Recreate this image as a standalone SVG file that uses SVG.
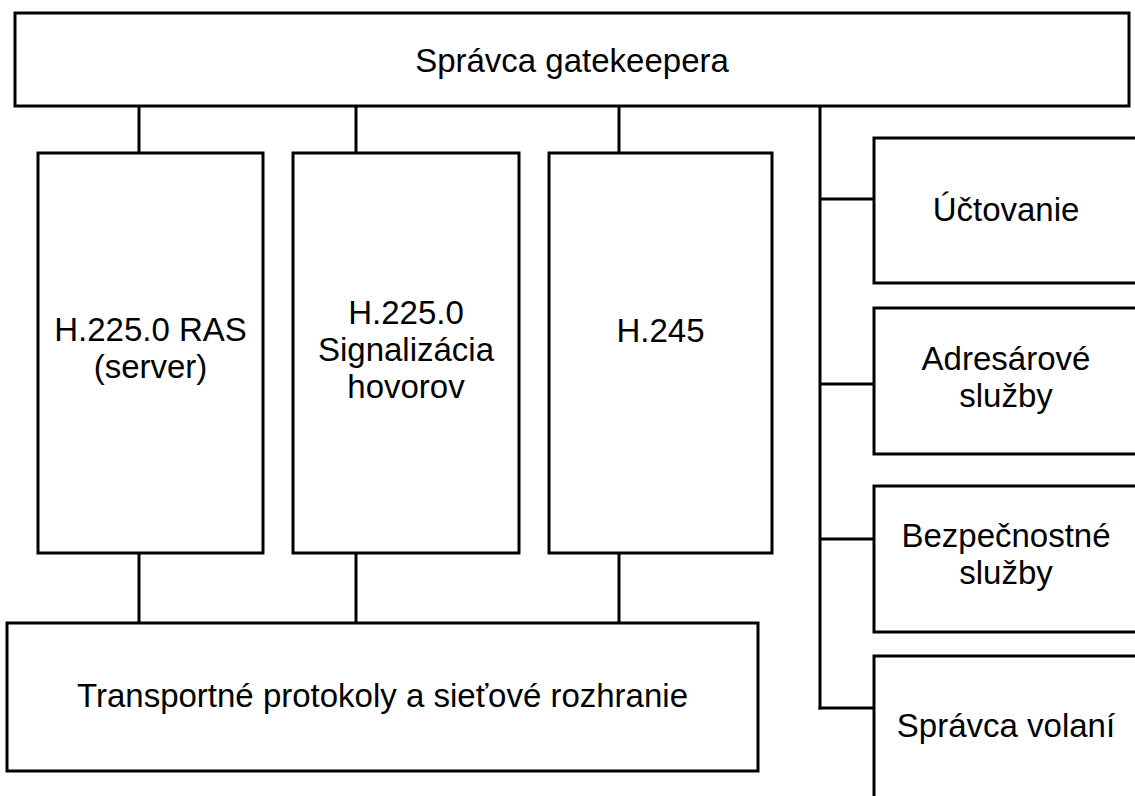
<svg xmlns="http://www.w3.org/2000/svg" width="1135" height="796" viewBox="0 0 1135 796">
<style>
rect{fill:#fff;stroke:#000;stroke-width:3}
line{stroke:#000;stroke-width:3}
text{font-family:"Liberation Sans",Arial,sans-serif;font-size:33px;fill:#000;text-anchor:middle}
</style>
<rect x="0" y="0" width="1135" height="796" style="stroke:none"/>
<g id="connectors">
<line x1="139" y1="106" x2="139" y2="153"/>
<line x1="356" y1="106" x2="356" y2="153"/>
<line x1="619" y1="106" x2="619" y2="153"/>
<line x1="139" y1="553" x2="139" y2="623"/>
<line x1="356" y1="553" x2="356" y2="623"/>
<line x1="619" y1="553" x2="619" y2="623"/>
<line x1="820" y1="106" x2="820" y2="709.5"/>
<line x1="820" y1="199" x2="874" y2="199"/>
<line x1="820" y1="384" x2="874" y2="384"/>
<line x1="820" y1="539" x2="874" y2="539"/>
<line x1="818.5" y1="708" x2="874" y2="708"/>
</g>
<g id="gatekeeper"><rect x="15" y="13" width="1114" height="93"/><text x="572" y="72">Správca gatekeepera</text></g>
<g id="ras"><rect x="38" y="153" width="225" height="400"/><text x="150.5" y="341">H.225.0 RAS</text><text x="150.5" y="378">(server)</text></g>
<g id="signal"><rect x="293" y="153" width="226" height="400"/><text x="406" y="324">H.225.0</text><text x="406" y="361">Signalizácia</text><text x="406" y="398">hovorov</text></g>
<g id="h245"><rect x="549" y="153" width="223" height="400"/><text x="660.5" y="342">H.245</text></g>
<g id="transport"><rect x="7" y="623" width="751" height="148"/><text x="382.5" y="707">Transportné protokoly a sieťové rozhranie</text></g>
<g id="uctovanie"><rect x="874" y="138" width="280" height="145"/><text x="1006" y="221">Účtovanie</text></g>
<g id="adresar"><rect x="874" y="308" width="280" height="146"/><text x="1006" y="370">Adresárové</text><text x="1006" y="407">služby</text></g>
<g id="bezpecnost"><rect x="874" y="486" width="280" height="146"/><text x="1006" y="547">Bezpečnostné</text><text x="1006" y="584">služby</text></g>
<g id="volania"><rect x="874" y="656" width="280" height="160"/><text x="1006" y="737">Správca volaní</text></g>
</svg>
